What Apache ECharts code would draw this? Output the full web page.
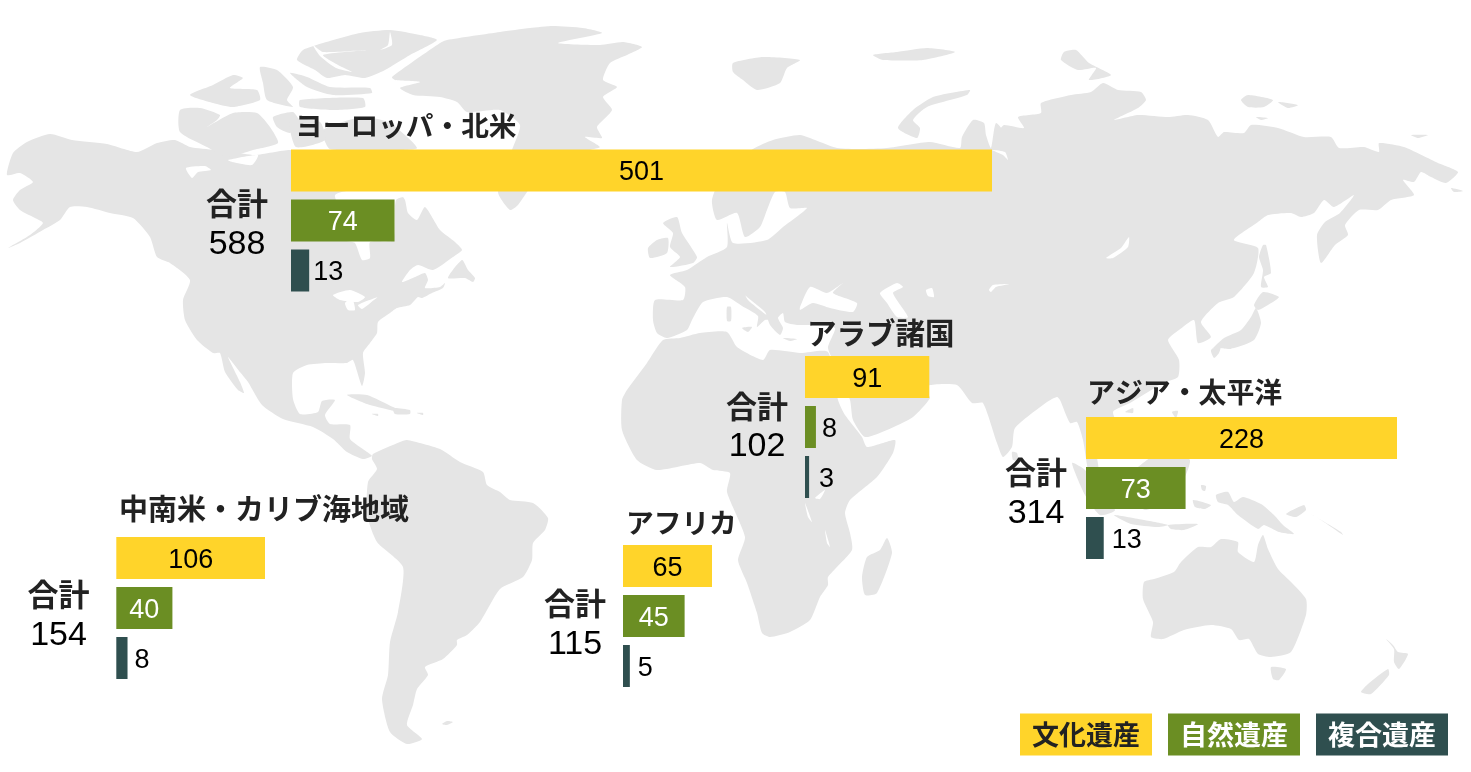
<!DOCTYPE html>
<html lang="ja">
<head>
<meta charset="utf-8">
<title>世界遺産の地域別登録数</title>
<script src="https://cdn.jsdelivr.net/npm/echarts@6/dist/echarts.min.js"></script>
<style>html,body{margin:0;padding:0;background:#fff}#c{width:1471px;height:772px}</style>
</head>
<body>
<div id="c"></div>
<script>
// ---- data ----
const regionNames = ['ヨーロッパ・北米', 'アラブ諸国', 'アジア・太平洋', 'アフリカ', '中南米・カリブ海地域'];
const heritageTypes = ['文化遺産', '自然遺産', '複合遺産'];
const cultural = [501, 91, 228, 65, 106];
const natural = [74, 8, 73, 45, 40];
const mixed = [13, 3, 13, 5, 8];
const totals = [588, 102, 314, 115, 154];
const totalLabel = '合計';

// ---- layout ----
const gridLeft = [291, 805, 1086, 623, 116.3];
const gridTop = [145.5, 352, 413, 541, 533];
const gridWidth = [701, 124.3, 311, 89, 148.7];
const titlePos = [[295, 125], [807, 333], [1087, 392], [626, 522], [119, 509]];
const titleSize = [27.7, 29.5, 27.9, 27.7, 29];
const totalPos = [[237, 203, 245], [757, 406, 447], [1036, 472, 514], [575, 603, 645], [58.5, 594, 636]];
const naturalLabelGap = [5, 6, 5, 5, 5];
const mixedLabelGap = [4, 10, 8, 8, 7];
const typeColors = ['#FFD42A', '#6B8E23', '#2F4F4F'];
const typeTextColors = ['#222222', '#ffffff', '#ffffff'];
const labelColors = ['#000000', '#ffffff'];
const landColor = '#e5e5e5';

// ---- decorative base map outlines (page pixels) ----
const landShapes = [
 // North America
 [7,175,13,153,27,142,50,134,72,140,107,144,137,152,157,143,175,140,190,147,215,150,233,152,255,155,290,150,340,155,395,150,400,192,405,200,408,213,417,220,425,207,440,230,455,242,462,250,453,257,433,270,418,265,410,270,402,282,415,277,425,273,428,280,425,288,440,287,445,283,443,288,432,293,422,298,418,297,410,305,397,308,390,313,378,322,377,333,370,343,363,353,365,373,362,386,353,360,347,363,327,363,307,365,293,373,293,399,300,414,318,412,322,401,335,400,325,415,330,424,350,425,350,439,367,452,372,456,363,459,347,452,333,439,313,427,283,419,262,405,248,382,240,372,228,357,240,382,244,393,238,390,225,372,220,353,213,353,197,340,185,320,183,300,190,280,170,263,157,257,150,237,133,218,110,213,87,207,70,207,60,220,43,230,20,243,8,248,30,235,43,223,33,217,20,210,13,200,20,190,33,182,20,173],
 // Arctic Canada
 [437,40,420,35,390,30,360,33,323,43,303,50,297,60,315,70,327,78,345,75,365,78,385,70,410,55],
 [190,95,213,85,233,75,243,78,230,88,257,90,260,100,233,107,213,103],
 [260,67,277,70,293,87,287,100,293,107,267,100,263,83],
 [290,73,307,77,330,87,370,88,372,93,333,95,307,87],
 [300,100,363,98,365,107,333,110,300,107],
 [180,110,200,108,220,115,217,120,207,127,233,113,257,113,270,127,278,143,253,150,227,157,207,147,180,132],
 [273,117,293,112,300,123,290,133,277,127],
 [323,130,363,117,390,123,417,148,390,150,330,149],
 [290,120,320,122,325,140,296,147],
 // Greenland
 [500,32,447,40,440,43,392,77,395,80,420,82,400,88,413,95,440,97,457,102,467,112,500,110,520,125,512,150,498,192,510,210,518,205,540,175,590,150,600,147,585,137,602,138,597,127,612,110,603,97,617,87,603,80,610,63,627,55,642,47,623,42,600,45,558,43,602,33,583,28,553,26,530,28],
 // Newfoundland, Caribbean
 [462,260,448,278,465,278,473,282,475,278,468,270],
 [347,395,367,395,393,407,410,414,390,410,367,404],
 [393,408,410,410,410,414,395,414],
 [372,414,378,414,378,416],
 [417,413,423,413,423,415],
 // South America
 [373,454,400,442,407,440,440,449,460,462,483,472,487,485,500,492,510,500,533,503,548,518,545,530,533,543,532,560,523,577,500,589,480,622,467,635,457,640,457,645,443,659,425,667,428,675,417,689,413,705,407,725,422,739,407,744,390,732,382,699,388,675,390,642,398,612,403,567,377,542,367,515,368,482,377,469,372,459],
 [442,724,447,721,453,722,447,725],
 // Eurasia
 [828,348,835,328,815,325,797,325,785,322,783,313,778,318,783,328,780,335,770,325,765,312,745,295,742,288,748,300,765,314,773,320,765,320,757,327,758,316,742,306,727,297,703,302,692,320,687,330,667,338,657,333,653,320,655,300,683,300,685,287,670,275,687,270,707,257,727,247,727,223,733,243,767,240,783,227,807,208,790,208,785,192,775,192,767,210,760,227,745,237,737,213,717,220,712,200,725,170,753,149,773,140,800,135,820,142,837,148,860,149,887,148,930,142,960,148,962,137,973,120,984,123,986,135,991,148,996,123,1008,137,1000,130,1004,125,1024,128,1018,117,1041,113,1041,103,1071,95,1091,92,1103,83,1118,90,1141,92,1146,100,1138,108,1114,120,1138,115,1168,117,1188,115,1208,120,1218,137,1224,132,1244,133,1251,125,1278,128,1304,137,1331,137,1339,148,1364,147,1379,152,1379,143,1404,147,1438,163,1458,172,1446,183,1431,177,1421,172,1414,182,1403,180,1414,195,1391,200,1378,210,1359,210,1345,225,1348,235,1335,245,1321,263,1317,235,1325,222,1340,213,1354,195,1334,207,1324,200,1314,213,1301,217,1291,213,1268,215,1258,222,1234,240,1258,248,1254,273,1234,297,1218,303,1201,322,1211,337,1198,343,1194,320,1179,330,1168,340,1179,360,1178,377,1163,383,1130,403,1113,412,1125,440,1120,458,1105,450,1095,440,1100,480,1095,490,1088,470,1083,440,1077,422,1070,423,1060,400,1057,397,1047,402,1015,428,1012,447,1003,457,997,443,983,403,972,403,957,385,930,385,925,391,930,398,913,417,887,430,865,437,853,420,850,400,838,370],
 // British Isles, arctic and Mediterranean islands
 [663,223,677,217,682,233,697,257,693,263,670,267,680,257,670,247,673,233],
 [648,248,657,240,668,238,667,253,650,258],
 [733,63,763,57,800,60,787,68,780,83,757,90,743,80,733,72],
 [873,55,897,52,927,48,955,52,923,60,883,60],
 [970,90,933,97,913,110,898,128,917,138,920,128,913,120,927,107,967,95],
 [1061,60,1064,52,1076,50,1089,63,1111,75,1089,80,1096,68,1078,70],
 [1241,100,1248,95,1273,100,1264,107,1248,107],
 [1278,102,1298,105,1288,108],
 [1256,117,1268,118,1261,120],
 [1411,135,1428,135,1418,138],
 [1451,188,1463,191,1454,192],
 [727,307,731,307,731,321,727,321],
 [742,328,752,327,748,332],
 [783,338,797,339,790,341],
 // Japan and Sakhalin
 [1263,245,1266,245,1271,273,1264,277,1268,287,1261,287,1263,270,1259,257],
 [1254,305,1263,292,1279,297,1268,305,1258,310],
 [1256,308,1261,323,1254,340,1234,348,1214,348,1211,350,1224,338,1241,330,1251,317],
 [1211,350,1221,345,1219,353,1214,358],
 [1223,348,1233,345,1231,349],
 // South-East Asia
 [1172,412,1178,411,1176,418],
 [1125,412,1133,408,1133,413],
 [1012,452,1017,453,1018,460,1013,460],
 [1135,470,1165,450,1190,460,1175,495,1145,510,1130,490],
 [1165,430,1190,430,1195,458,1175,450],
 [1072,463,1085,470,1115,510,1100,515,1085,495],
 [1114,515,1144,520,1168,525,1158,527,1131,524],
 [1168,525,1198,524,1184,530,1171,529],
 [1193,500,1211,505,1205,509,1195,507],
 [1201,485,1206,486,1205,491,1202,490],
 [1216,495,1228,492,1234,502,1243,497,1261,504,1274,515,1283,525,1294,534,1279,532,1264,525,1258,529,1238,515,1228,505,1218,502],
 [1286,514,1304,505,1306,510,1296,517],
 [1311,514,1341,532,1343,535,1321,520],
 // Australia and New Zealand
 [1143,599,1153,622,1151,637,1163,639,1184,630,1211,625,1231,629,1239,640,1249,639,1258,654,1271,657,1291,652,1306,615,1306,599,1291,582,1278,569,1268,549,1263,535,1258,545,1254,562,1238,552,1238,542,1221,539,1211,547,1198,547,1181,562,1174,572,1154,579,1144,582],
 [1271,667,1286,669,1279,680,1273,679],
 [1386,639,1393,645,1398,652,1408,654,1399,669,1394,662,1394,649],
 [1388,669,1389,675,1371,694,1361,692,1368,684],
 // Africa
 [627,390,647,363,663,340,680,338,700,333,727,332,737,347,763,360,770,350,800,353,828,352,838,400,845,415,862,437,867,447,895,440,893,453,877,477,850,500,845,513,850,533,852,550,828,577,828,585,820,597,810,620,790,632,770,637,762,633,757,613,747,583,738,560,745,537,727,492,730,473,713,470,700,463,657,470,637,460,622,430,622,400],
 [887,538,892,553,877,593,865,595,862,577,867,557,880,550]
];
const waterShapes = [
 // Hudson Bay and James Bay
 [352,190,395,190,410,195,396,200,393,240,370,242,370,258,362,260,355,243,345,240,340,210,335,195],
 // Great Bear / Great Slave lakes
 [186,168,205,166,211,170,198,172,192,178],
 // Arctic channels
 [228,160,258,155,252,165,232,162],
 [313,45,323,52,367,50,323,55,338,65,352,72,336,68,320,56],
 [390,32,392,45,380,50,388,45],
 // Great Lakes
 [333,295,350,290,365,297,358,302,340,300],
 [345,303,352,298,355,310,348,310],
 [358,305,378,297,374,300,362,309],
 // Black Sea, Caspian, Aral
 [800,307,810,287,827,293,843,283,833,293,857,303,853,312,830,308,813,303,800,310],
 [880,293,897,283,903,287,893,293,908,317,897,317,887,303],
 [926,290,932,288,934,297,928,296],
 // Baikal, Balkhash, Ob
 [1129,237,1128,247,1113,258,1106,258,1121,248],
 [989,290,993,285,1009,284,996,287,991,292],
 [992,150,1005,152,1008,160,1003,155],
 // African lakes
 [815,498,825,490,820,499],
 [805,503,812,522,808,517],
 [825,530,830,547,827,543]
];

function toPoints(flat) {
  const pts = [];
  for (let i = 0; i < flat.length; i += 2) pts.push([flat[i], flat[i + 1]]);
  return pts;
}

const sansFont = '"Liberation Sans", Arial, sans-serif';
const cjkFont = '"Noto Sans CJK JP", sans-serif';
const BAR_PITCH = 50;
const seriesValues = [cultural, natural, mixed];

const grid = [], xAxis = [], yAxis = [], series = [], graphic = [];

landShapes.forEach(s => graphic.push({ type: 'polygon', silent: true, z: 0, shape: { points: toPoints(s), smooth: 0.2 }, style: { fill: landColor } }));
waterShapes.forEach(s => graphic.push({ type: 'polygon', silent: true, z: 0, shape: { points: toPoints(s), smooth: 0.2 }, style: { fill: '#ffffff' } }));

regionNames.forEach((name, r) => {
  grid.push({ left: gridLeft[r], top: gridTop[r], width: gridWidth[r], height: BAR_PITCH * 3, containLabel: false });
  xAxis.push({ type: 'value', gridIndex: r, min: 0, max: cultural[r], show: false });
  yAxis.push({ type: 'category', gridIndex: r, inverse: true, data: heritageTypes, show: false });
  heritageTypes.forEach((type, t) => {
    const v = seriesValues[t][r];
    const inside = v >= 30;
    series.push({
      type: 'bar', name: type, xAxisIndex: r, yAxisIndex: r, stack: 'region' + r,
      barWidth: 42, silent: true, animation: false,
      itemStyle: { color: typeColors[t] },
      label: {
        show: true, position: inside ? 'inside' : 'right',
        distance: t === 2 ? mixedLabelGap[r] : naturalLabelGap[r],
        offset: [0, 2.5],
        fontFamily: sansFont, fontSize: 27,
        color: inside && t === 1 ? labelColors[1] : labelColors[0]
      },
      data: heritageTypes.map((_, i) => (i === t ? v : '-'))
    });
  });
  graphic.push({ type: 'text', silent: true, z: 10, x: titlePos[r][0], y: titlePos[r][1],
    style: { text: name, font: 'bold ' + titleSize[r] + 'px ' + cjkFont, fill: '#222222', align: 'left', verticalAlign: 'middle' } });
  graphic.push({ type: 'text', silent: true, z: 10, x: totalPos[r][0], y: totalPos[r][1],
    style: { text: totalLabel, font: 'bold 31px ' + cjkFont, fill: '#222222', align: 'center', verticalAlign: 'middle' } });
  graphic.push({ type: 'text', silent: true, z: 10, x: totalPos[r][0], y: totalPos[r][2],
    style: { text: String(totals[r]), font: '34px ' + sansFont, fill: '#000000', align: 'center', verticalAlign: 'middle' } });
});

const chart = echarts.init(document.getElementById('c'), null, { renderer: 'canvas' });
chart.setOption({
  animation: false,
  backgroundColor: '#ffffff',
  grid, xAxis, yAxis, series, graphic,
  legend: {
    left: 1015, top: 713.5, padding: 0, itemGap: 11, itemWidth: 0, itemHeight: 0, selectedMode: false,
    data: heritageTypes.map((t, i) => ({
      name: t, icon: 'rect',
      textStyle: {
        width: 108, height: 42, lineHeight: 42, padding: [0, 12],
        fontFamily: cjkFont, fontSize: 27, fontWeight: 'bold',
        color: typeTextColors[i], backgroundColor: typeColors[i]
      }
    }))
  }
});
</script>
</body>
</html>
